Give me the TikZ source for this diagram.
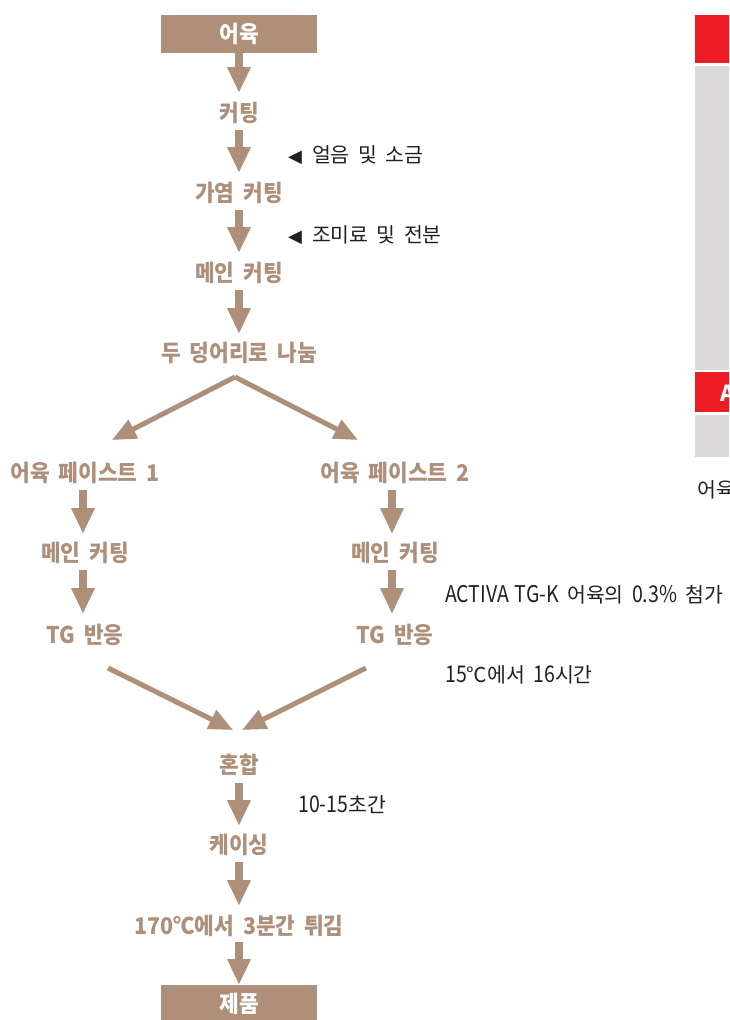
\documentclass[tikz,border=0pt]{standalone}
\usepackage{fontspec}
\setmainfont{Noto Sans CJK KR}[WordSpace=2]
\newfontfamily\lblfont{Noto Sans CJK KR}[FakeStretch=0.93, WordSpace=1.8]
\newfontfamily\notefont{Noto Sans CJK KR}[WordSpace=1.8]
\newfontfamily\latfont{Noto Sans CJK KR}[FakeStretch=0.85, WordSpace=1.3]
\newfontfamily\symfont{DejaVu Sans}
\newcommand{\lat}[1]{{\latfont\fontsize{23}{25}\selectfont #1}}
\usetikzlibrary{arrows.meta}
\definecolor{brn}{RGB}{173,143,122}
\definecolor{redc}{RGB}{237,28,36}
\definecolor{grayc}{RGB}{218,216,217}
\definecolor{txt}{RGB}{35,31,32}
\tikzset{
  lbl/.style={text=brn, font=\lblfont\fontsize{23}{25}\selectfont\bfseries, inner sep=0pt},
  boxn/.style={fill=brn, text=white, minimum width=156pt, minimum height=38pt, inner sep=0pt, font=\lblfont\fontsize{23}{25}\selectfont\bfseries},
  note/.style={text=txt, font=\notefont\fontsize{20.5}{22}\selectfont, inner sep=0pt, anchor=west},
  varr/.style={draw=brn, line width=8pt, -{Triangle[width=22pt,length=26pt]}},
  darr/.style={draw=brn, line width=5pt, -{Triangle[width=20pt,length=24pt]}},
}
\begin{document}
\begin{tikzpicture}[x=1pt,y=-1pt]
\useasboundingbox (0,0) rectangle (729,1020);
\begin{scope}
\clip (0,0) rectangle (729,1020);
% main column
\node[boxn] (a) at (239,34) {어육};
\node[lbl] (b) at (239,113) {커팅};
\node[lbl] (c) at (239,193) {가염 커팅};
\node[lbl] (d) at (239,273) {메인 커팅};
\node[lbl] (e) at (239,353) {두 덩어리로 나눔};
\coordinate (apex) at (235,377);
\coordinate (lt) at (112,440);
\coordinate (rt) at (358,440);
\node[lbl] (l1) at (85,473) {어육 페이스트 1};
\node[lbl] (r1) at (395,473) {어육 페이스트 2};
\node[lbl] (l2) at (85,553) {메인 커팅};
\node[lbl] (r2) at (395,553) {메인 커팅};
\node[lbl] (l3) at (85,635) {TG 반응};
\node[lbl] (r3) at (395,635) {TG 반응};
\coordinate (ls) at (108,668);
\coordinate (rs) at (366,668);
\coordinate (lm) at (233,730);
\coordinate (rm) at (242,730);
\node[lbl] (f) at (239,765) {혼합};
\node[lbl] (g) at (239,845) {케이싱};
\node[lbl] (h) at (239,926) {170℃에서 3분간 튀김};
\fill[brn] (161,985) rectangle (317,1025);
\node[text=white, font=\lblfont\fontsize{23}{25}\selectfont\bfseries, inner sep=0pt] (z) at (239,1004) {제품};
\coordinate (ztop) at (239,985);

% notes
\node[note] (n1) at (288,155) {{\symfont\fontsize{18}{20}\selectfont ◀}\hspace{10pt}얼음 및 소금};
\node[note] (n2) at (288,235) {{\symfont\fontsize{18}{20}\selectfont ◀}\hspace{10pt}조미료 및 전분};
\node[note] (n3) at (445,595) {\lat{ACTIVA TG-K} 어육의 \lat{0.3\%} 첨가};
\node[note] (n4) at (445,675) {\lat{15}℃에서 \lat{16}시간};
\node[note] (n5) at (298,805) {\lat{10-15}초간};

% arrows
\draw[varr] (a.south) -- (239,93);
\draw[varr] (239,130) -- (239,173);
\draw[varr] (239,210) -- (239,253);
\draw[varr] (239,290) -- (239,334);
\draw[darr] (apex) -- (lt);
\draw[darr] (apex) -- (rt);
\draw[varr] (83,490) -- (83,534);
\draw[varr] (392,490) -- (392,534);
\draw[varr] (83,570) -- (83,614);
\draw[varr] (392,570) -- (392,614);
\draw[darr] (ls) -- (lm);
\draw[darr] (rs) -- (rm);
\draw[varr] (239,783) -- (239,826);
\draw[varr] (239,862) -- (239,906);
\draw[varr] (239,942) -- (ztop);

% right side partial panel
\fill[redc] (695,15) rectangle (735,63);
\fill[grayc] (695,66) rectangle (735,370);
\fill[redc] (695,372) rectangle (735,412);
\node[text=white, font=\fontsize{22}{24}\selectfont\bfseries, inner sep=0pt, anchor=west] (ra) at (720,393) {A};
\fill[grayc] (695,415) rectangle (735,457);
\node[note] (rn) at (697,490) {어육};
\end{scope}
\end{tikzpicture}
\end{document}
